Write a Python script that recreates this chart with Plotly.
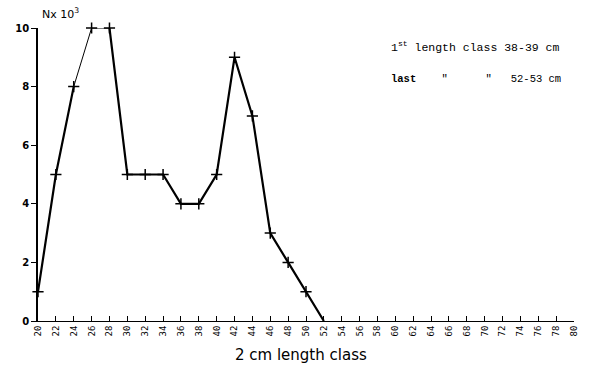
import plotly.graph_objects as go

length_class = [20, 22, 24, 26, 28, 30, 32, 34, 36, 38, 40, 42, 44, 46, 48, 50, 52]
n_thousands = [1, 5, 8, 10, 10, 5, 5, 5, 4, 4, 5, 9, 7, 3, 2, 1, 0]
x_ticks = list(range(20, 81, 2))
y_ticks = [0, 2, 4, 6, 8, 10]

fig = go.Figure()
# thin section (24 -> 26 -> 28)
fig.add_trace(go.Scatter(x=length_class[2:5], y=n_thousands[2:5], mode="lines",
                         line=dict(color="black", width=1), cliponaxis=False, showlegend=False))
# thick sections
fig.add_trace(go.Scatter(x=length_class[:3], y=n_thousands[:3], mode="lines",
                         line=dict(color="black", width=2.2), cliponaxis=False, showlegend=False))
fig.add_trace(go.Scatter(x=length_class[4:], y=n_thousands[4:], mode="lines",
                         line=dict(color="black", width=2.2), cliponaxis=False, showlegend=False))
# markers
fig.add_trace(go.Scatter(x=length_class[:-1], y=n_thousands[:-1], mode="markers",
                         marker=dict(symbol="cross-thin", size=8, line=dict(color="black", width=1.5)),
                         cliponaxis=False, showlegend=False))

L, R, T, B = 38, 26, 28, 56
W, H = 600, 377
pw, ph = W - L - R, H - T - B


def px(x, y):
    return (x - L) / pw, (H - B - y) / ph


def ann(text, x, y, size, family, xanchor="left"):
    xp, yp = px(x, y)
    return dict(text=text, x=xp, y=yp, xref="paper", yref="paper", showarrow=False,
                xanchor=xanchor, yanchor="middle", font=dict(size=size, family=family, color="black"))


Q = "\u2033"
fig.update_layout(
    width=W, height=H,
    margin=dict(l=L, r=R, t=T, b=B),
    paper_bgcolor="white", plot_bgcolor="white",
    font=dict(family="DejaVu Sans", color="black"),
    xaxis=dict(range=[20, 80], tickvals=x_ticks, ticktext=[str(v) for v in x_ticks],
               tickangle=-90, ticks="inside", ticklen=5, tickcolor="black",
               showline=True, linecolor="black", linewidth=1, showgrid=False, zeroline=False,
               tickfont=dict(size=9, family="DejaVu Sans Mono")),
    yaxis=dict(range=[0, 10], tickvals=y_ticks, ticktext=["<b>%d</b>" % v for v in y_ticks],
               ticks="outside", ticklen=5, tickcolor="black",
               showline=True, linecolor="black", linewidth=1.5, showgrid=False, zeroline=False,
               tickfont=dict(size=10, family="DejaVu Sans")),
    annotations=[
        ann("Nx 10<sup>3</sup>", 40, 14, 11, "DejaVu Sans"),
        ann("2 cm length class", 301, 355, 15, "DejaVu Sans", xanchor="center"),
        ann("1<sup>st</sup> length class 38-39 cm", 389, 47, 11.5, "Liberation Mono"),
        ann("<b>last</b>    " + Q + "      " + Q + "   52-53 cm", 389, 79, 10.5, "Liberation Mono"),
    ],
)

fig.write_html("out.html")
